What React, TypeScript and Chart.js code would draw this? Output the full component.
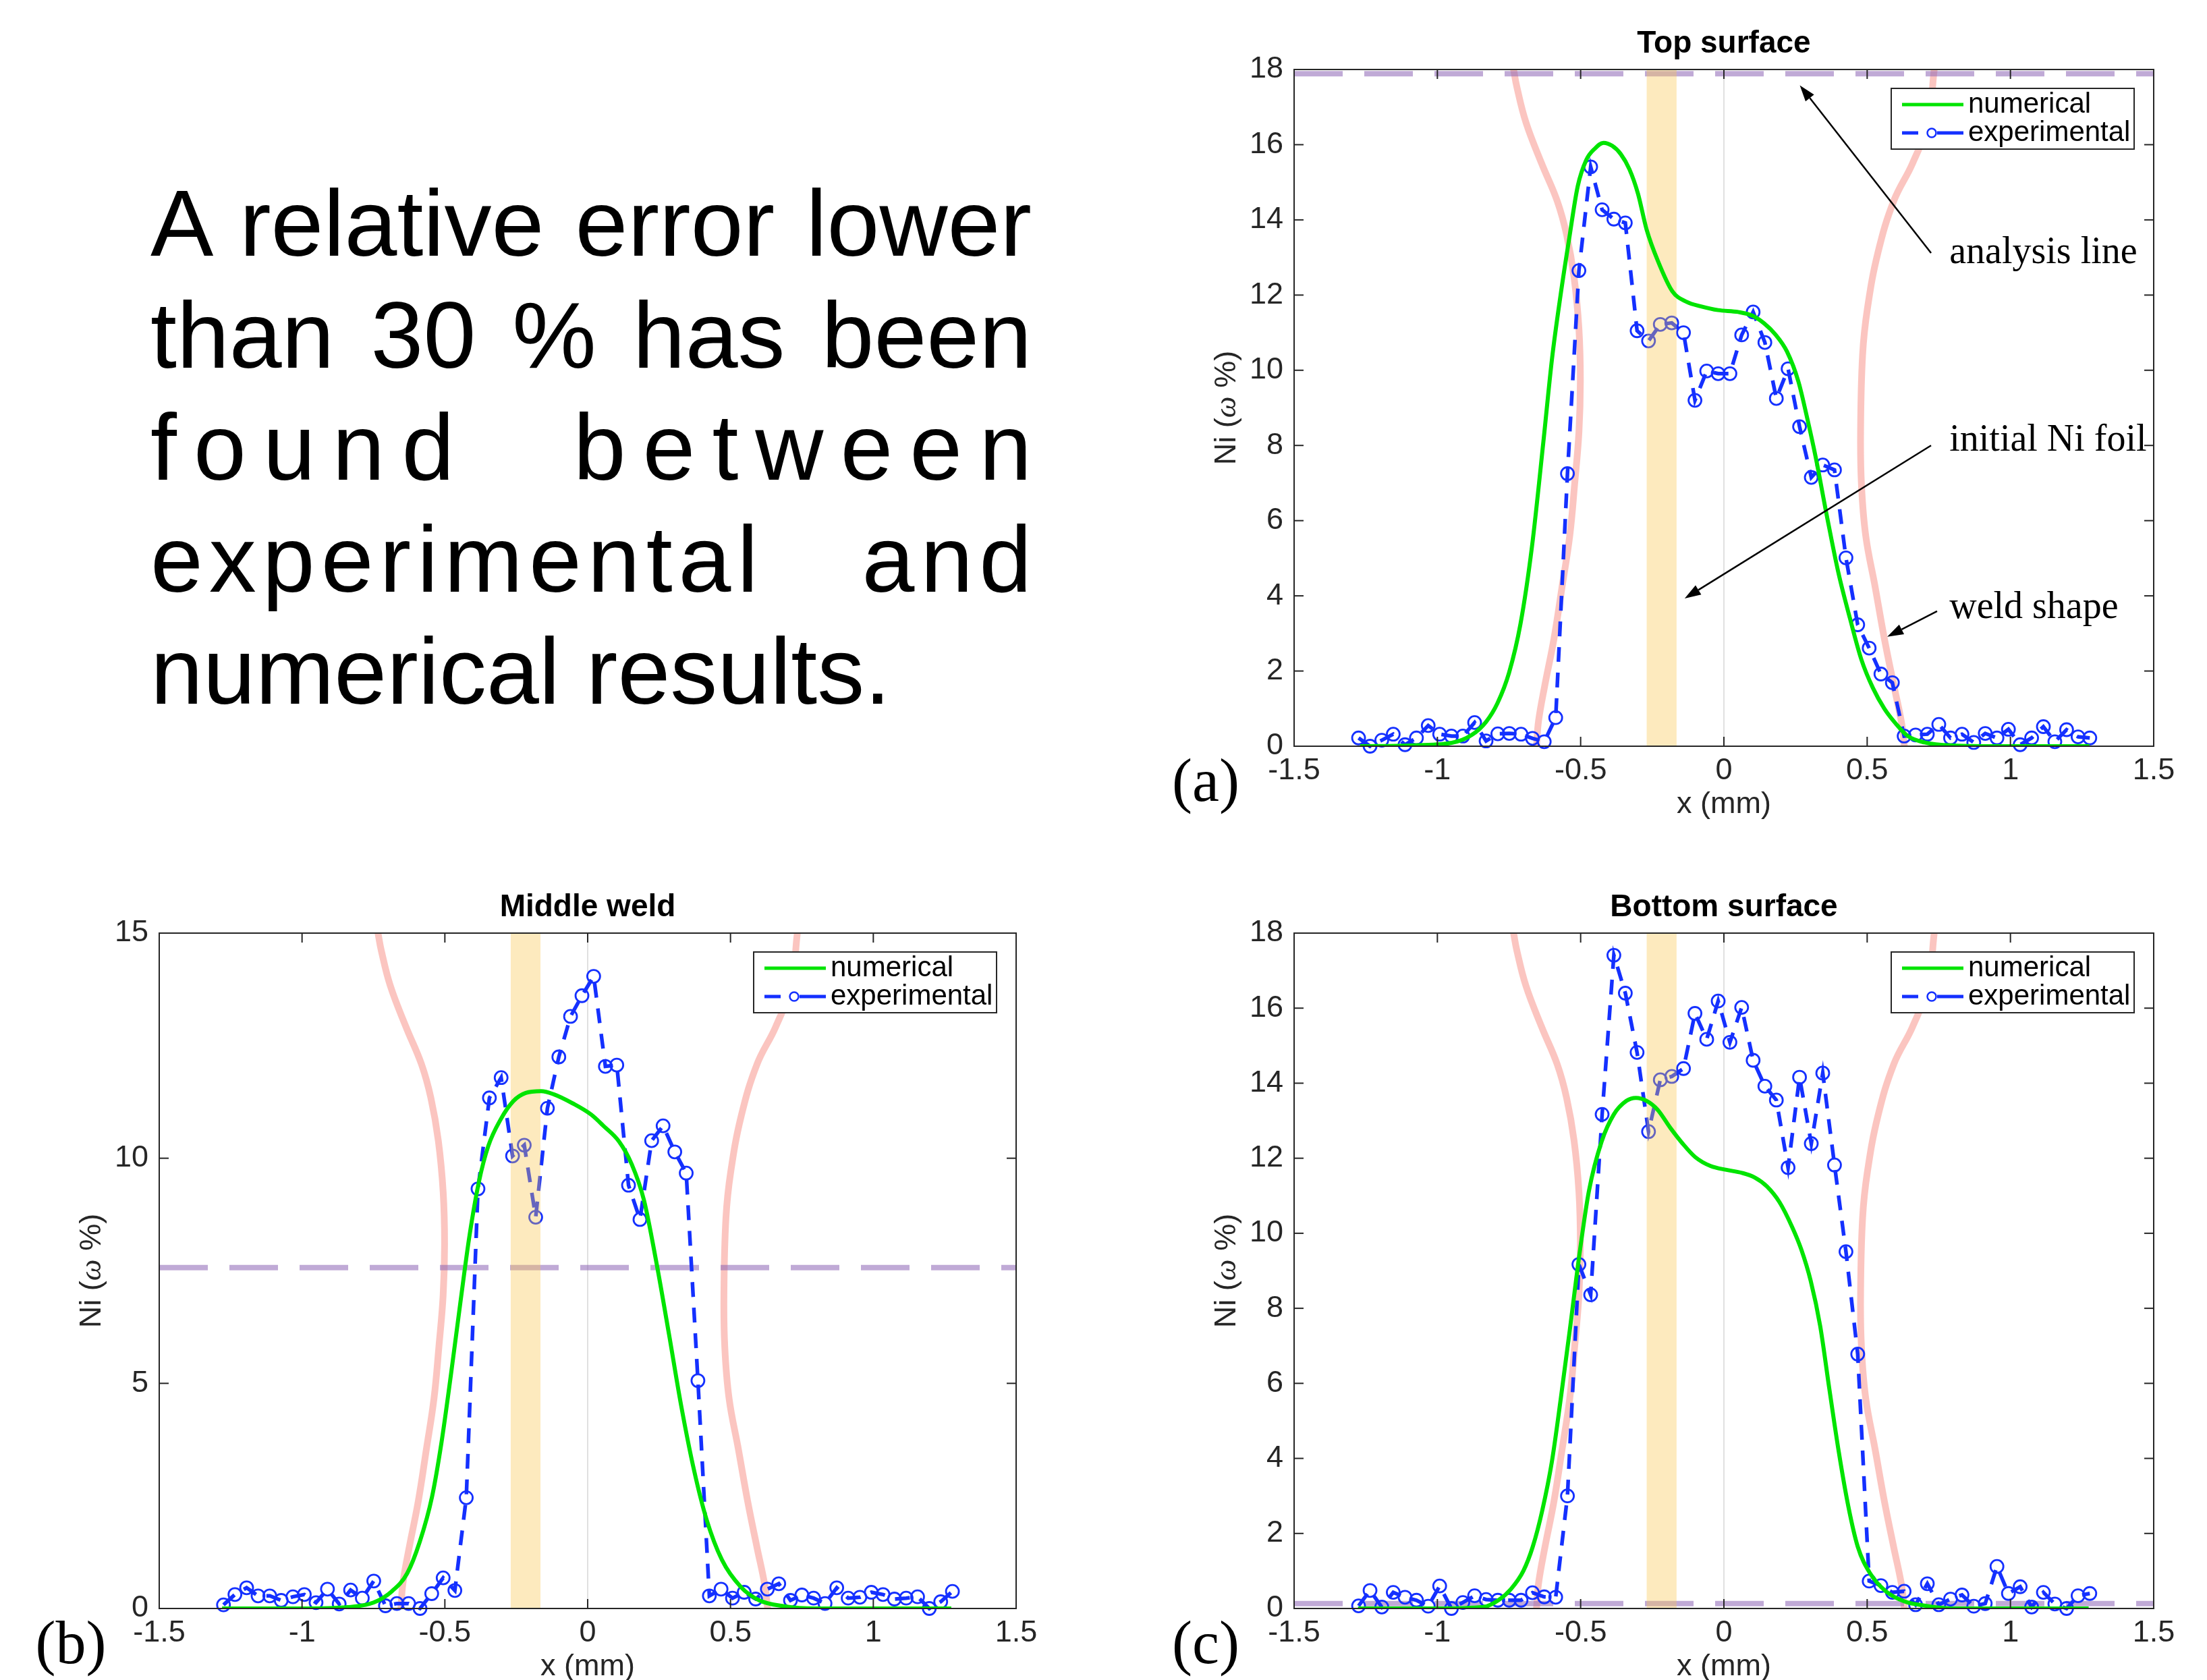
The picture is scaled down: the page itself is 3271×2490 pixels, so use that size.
import React, { useEffect, useRef } from "react";
import { Chart, registerables } from "chart.js";
Chart.register(...registerables);

const SANS = '"Liberation Sans", Arial, Helvetica, sans-serif';
const SERIF = '"Liberation Serif", "Times New Roman", serif';

// ---------------- data ----------------
const xTicksStep = 0.5;

// sampling positions of the experimental profiles (mm)
const expX = [-1.275, -1.235, -1.194, -1.154, -1.113, -1.073, -1.032, -0.992, -0.951, -0.911, -0.87, -0.83, -0.789, -0.749, -0.708, -0.668, -0.627, -0.587, -0.546, -0.506, -0.465, -0.425, -0.384, -0.344, -0.303, -0.263, -0.222, -0.182, -0.141, -0.101, -0.06, -0.02, 0.021, 0.062, 0.102, 0.143, 0.183, 0.224, 0.264, 0.305, 0.345, 0.386, 0.426, 0.467, 0.507, 0.548, 0.588, 0.629, 0.669, 0.71, 0.75, 0.791, 0.831, 0.872, 0.912, 0.953, 0.993, 1.034, 1.074, 1.115, 1.155, 1.196, 1.236, 1.277];

const topExp = [0.22, 0.0, 0.16, 0.32, 0.04, 0.22, 0.55, 0.32, 0.27, 0.27, 0.63, 0.14, 0.33, 0.34, 0.32, 0.21, 0.12, 0.76, 7.25, 12.65, 15.41, 14.27, 14.02, 13.92, 11.05, 10.78, 11.22, 11.26, 11.0, 9.2, 9.98, 9.91, 9.91, 10.94, 11.55, 10.74, 9.25, 10.04, 8.5, 7.15, 7.48, 7.35, 5.01, 3.23, 2.61, 1.92, 1.69, 0.27, 0.3, 0.32, 0.58, 0.22, 0.32, 0.1, 0.34, 0.22, 0.45, 0.04, 0.22, 0.52, 0.12, 0.44, 0.25, 0.22];
const midExp = [0.08, 0.31, 0.46, 0.28, 0.28, 0.18, 0.26, 0.31, 0.13, 0.43, 0.1, 0.41, 0.23, 0.61, 0.06, 0.11, 0.11, 0.0, 0.33, 0.68, 0.4, 2.46, 9.32, 11.34, 11.79, 10.05, 10.29, 8.69, 11.11, 12.25, 13.15, 13.61, 14.04, 12.04, 12.07, 9.4, 8.64, 10.39, 10.72, 10.14, 9.67, 5.06, 0.28, 0.43, 0.23, 0.36, 0.21, 0.43, 0.55, 0.18, 0.3, 0.23, 0.11, 0.46, 0.23, 0.25, 0.36, 0.31, 0.21, 0.23, 0.26, 0.0, 0.15, 0.38];
const botExp = [0.07, 0.48, 0.04, 0.43, 0.3, 0.22, 0.06, 0.6, 0.0, 0.16, 0.34, 0.24, 0.22, 0.22, 0.22, 0.42, 0.31, 0.3, 3.0, 9.17, 8.36, 13.17, 17.41, 16.4, 14.82, 12.71, 14.09, 14.18, 14.39, 15.86, 15.17, 16.19, 15.09, 16.02, 14.61, 13.92, 13.55, 11.75, 14.16, 12.39, 14.27, 11.82, 9.51, 6.78, 0.73, 0.61, 0.43, 0.46, 0.1, 0.66, 0.1, 0.25, 0.36, 0.06, 0.13, 1.12, 0.4, 0.58, 0.04, 0.43, 0.12, 0.0, 0.34, 0.4];

const topNumX = [-1.27, -1.1, -0.95, -0.88, -0.83, -0.79, -0.75, -0.71, -0.67, -0.63, -0.6, -0.57, -0.54, -0.51, -0.48, -0.45, -0.42, -0.39, -0.36, -0.33, -0.3, -0.27, -0.23, -0.18, -0.13, -0.08, -0.02, 0.05, 0.1, 0.14, 0.18, 0.22, 0.26, 0.29, 0.32, 0.36, 0.4, 0.44, 0.48, 0.52, 0.56, 0.6, 0.64, 0.7, 0.8, 1.0, 1.276];
const topNumY = [0, 0.02, 0.09, 0.3, 0.65, 1.15, 1.95, 3.25, 5.3, 8.1, 10.3, 12.0, 13.5, 14.9, 15.6, 15.9, 16.05, 15.97, 15.75, 15.35, 14.7, 13.75, 12.9, 12.1, 11.82, 11.7, 11.6, 11.55, 11.45, 11.25, 10.95, 10.5, 9.7, 8.75, 7.7, 6.1, 4.6, 3.4, 2.3, 1.55, 1.0, 0.6, 0.28, 0.1, 0.02, 0, 0];

const midNumX = [-1.28, -1.0, -0.84, -0.75, -0.686, -0.632, -0.588, -0.545, -0.512, -0.479, -0.446, -0.414, -0.381, -0.348, -0.304, -0.26, -0.217, -0.163, -0.119, -0.053, 0.012, 0.055, 0.11, 0.154, 0.197, 0.241, 0.285, 0.328, 0.372, 0.416, 0.47, 0.536, 0.601, 0.688, 0.797, 1.0, 1.273];
const midNumY = [0, 0, 0.03, 0.13, 0.38, 0.78, 1.48, 2.48, 3.68, 5.18, 6.78, 8.27, 9.47, 10.27, 10.87, 11.27, 11.45, 11.49, 11.42, 11.22, 10.97, 10.72, 10.37, 9.87, 9.07, 7.67, 6.08, 4.48, 3.08, 1.98, 1.08, 0.48, 0.18, 0.05, 0, 0, 0];

const botNumX = [-1.277, -1.0, -0.84, -0.787, -0.743, -0.7, -0.667, -0.634, -0.6, -0.569, -0.536, -0.504, -0.471, -0.427, -0.384, -0.34, -0.307, -0.27, -0.231, -0.187, -0.144, -0.1, -0.046, 0.009, 0.063, 0.107, 0.15, 0.194, 0.238, 0.27, 0.303, 0.336, 0.368, 0.401, 0.434, 0.467, 0.51, 0.565, 0.63, 0.706, 0.794, 1.0, 1.273];
const botNumY = [0, 0, 0.04, 0.22, 0.52, 1.0, 1.65, 2.61, 3.93, 5.61, 7.53, 9.45, 11.13, 12.44, 13.17, 13.53, 13.61, 13.53, 13.29, 12.81, 12.39, 12.03, 11.79, 11.69, 11.61, 11.49, 11.25, 10.83, 10.17, 9.57, 8.73, 7.53, 5.85, 4.17, 2.73, 1.65, 0.94, 0.46, 0.19, 0.07, 0, 0, 0];

// weld shape: x (mm) vs. relative depth (fraction of the axis height)
const weldLeftX = [-0.734, -0.723, -0.691, -0.636, -0.582, -0.549, -0.523, -0.506, -0.501, -0.506, -0.521, -0.538, -0.565, -0.593, -0.625, -0.647, -0.654];
const weldLeftDepth = [1.0, 0.975, 0.922, 0.861, 0.806, 0.756, 0.693, 0.617, 0.54, 0.464, 0.387, 0.311, 0.235, 0.159, 0.09, 0.037, 0];
const weldRightX = [0.734, 0.712, 0.658, 0.593, 0.538, 0.501, 0.484, 0.477, 0.48, 0.495, 0.528, 0.56, 0.593, 0.619, 0.63];
const weldRightDepth = [1.0, 0.922, 0.861, 0.806, 0.73, 0.647, 0.578, 0.464, 0.387, 0.311, 0.235, 0.159, 0.09, 0.037, 0];

const foilBand = [-0.27, -0.165];
const analysisLevels = { top: 17.89, mid: 7.57, bot: 0.13 };

const topNotes = [
  { text: "analysis line", tx: 0.787, ty: 13.12, fx: 0.723, fy: 13.12, hx: 0.265, hy: 17.58 },
  { text: "initial Ni foil", tx: 0.787, ty: 8.13, fx: 0.723, fy: 8.0, hx: -0.137, hy: 3.93 },
  { text: "weld shape", tx: 0.787, ty: 3.68, fx: 0.744, fy: 3.59, hx: 0.57, hy: 2.91 },
];

// ---------------- helpers ----------------
const pts = (xs: number[], ys: number[]) => xs.map((x, i) => ({ x, y: ys[i] }));

const GREEN = "#00e400";
const BLUE = "#1430ff";
const AXIS = "#262626";
const PINK = "rgba(248,150,140,0.55)";

type Spec = {
  title: string;
  panel: string;
  yMax: number;
  yStep: number;
  exp: number[];
  numX: number[];
  numY: number[];
  analysis: number;
  yw: number;
  pr: number;
  pt: number;
  xh: number;
  notes?: typeof topNotes;
};

function arrow(ctx: CanvasRenderingContext2D, x1: number, y1: number, x2: number, y2: number) {
  const ang = Math.atan2(y2 - y1, x2 - x1);
  const len = 24, hw = 8;
  const bx = x2 - len * Math.cos(ang), by = y2 - len * Math.sin(ang);
  ctx.beginPath();
  ctx.moveTo(x1, y1);
  ctx.lineTo(bx, by);
  ctx.stroke();
  ctx.beginPath();
  ctx.moveTo(x2, y2);
  ctx.lineTo(bx + hw * Math.sin(ang), by - hw * Math.cos(ang));
  ctx.lineTo(bx - hw * Math.sin(ang), by + hw * Math.cos(ang));
  ctx.closePath();
  ctx.fill();
}

function makeDecor(spec: Spec) {
  return {
    id: "decor",
    afterDraw(chart: any) {
      const { ctx, chartArea: a, scales } = chart;
      const xs = scales.x, ys = scales.y;
      ctx.save();
      // inward ticks + frame
      ctx.strokeStyle = AXIS;
      ctx.lineWidth = 2;
      const seg = (x1: number, y1: number, x2: number, y2: number) => {
        ctx.beginPath(); ctx.moveTo(x1, y1); ctx.lineTo(x2, y2); ctx.stroke();
      };
      xs.ticks.forEach((t: any) => {
        const px = xs.getPixelForValue(t.value);
        seg(px, a.bottom, px, a.bottom - 14);
        seg(px, a.top, px, a.top + 14);
      });
      ys.ticks.forEach((t: any) => {
        const py = ys.getPixelForValue(t.value);
        seg(a.left, py, a.left + 14, py);
        seg(a.right, py, a.right - 14, py);
      });
      ctx.strokeRect(a.left, a.top, a.right - a.left, a.bottom - a.top);

      // legend
      const bw = 360, bh = 90;
      const bx = a.right - 29 - bw, by = a.top + 28;
      ctx.fillStyle = "#ffffff";
      ctx.fillRect(bx, by, bw, bh);
      ctx.strokeStyle = AXIS;
      ctx.lineWidth = 2;
      ctx.strokeRect(bx, by, bw, bh);
      const r1 = by + 24, r2 = by + 66;
      ctx.lineWidth = 5;
      ctx.strokeStyle = GREEN;
      seg(bx + 16, r1, bx + 107, r1);
      ctx.strokeStyle = BLUE;
      seg(bx + 16, r2, bx + 40, r2);
      seg(bx + 68, r2, bx + 107, r2);
      ctx.lineWidth = 2.5;
      ctx.beginPath(); ctx.arc(bx + 60, r2, 6.5, 0, Math.PI * 2); ctx.stroke();
      ctx.fillStyle = "#000";
      ctx.font = `42px ${SANS}`;
      ctx.textAlign = "left";
      ctx.textBaseline = "middle";
      ctx.fillText("numerical", bx + 114, r1);
      ctx.fillText("experimental", bx + 114, r2);

      // title
      const cx = (a.left + a.right) / 2;
      ctx.font = `bold 46px ${SANS}`;
      ctx.textAlign = "center";
      ctx.fillStyle = "#000";
      ctx.fillText(spec.title, cx, a.top - 38);

      // x axis title
      ctx.font = `45px ${SANS}`;
      ctx.fillStyle = AXIS;
      ctx.fillText("x (mm)", cx, a.bottom + 87);

      // y axis title (rotated)
      ctx.save();
      ctx.translate(a.left - 99, (a.top + a.bottom) / 2);
      ctx.rotate(-Math.PI / 2);
      const parts: [string, string][] = [
        ["Ni (", `45px ${SANS}`],
        ["\u03c9", `italic 45px ${SERIF}`],
        [" %)", `45px ${SANS}`],
      ];
      let total = 0;
      parts.forEach(([t, f]) => { ctx.font = f; total += ctx.measureText(t).width; });
      let px = -total / 2;
      ctx.textAlign = "left";
      parts.forEach(([t, f]) => { ctx.font = f; ctx.fillText(t, px, 0); px += ctx.measureText(t).width; });
      ctx.restore();

      // panel label
      ctx.font = `90px ${SERIF}`;
      ctx.fillStyle = "#000";
      ctx.textAlign = "center";
      ctx.textBaseline = "middle";
      ctx.fillText(spec.panel, a.left - 131, a.bottom + 57);

      // annotations
      if (spec.notes) {
        ctx.strokeStyle = "#000";
        ctx.fillStyle = "#000";
        ctx.lineWidth = 2.5;
        ctx.font = `56px ${SERIF}`;
        ctx.textAlign = "left";
        spec.notes.forEach((n) => {
          arrow(ctx, xs.getPixelForValue(n.fx), ys.getPixelForValue(n.fy), xs.getPixelForValue(n.hx), ys.getPixelForValue(n.hy));
          ctx.fillText(n.text, xs.getPixelForValue(n.tx), ys.getPixelForValue(n.ty));
        });
      }
      ctx.restore();
    },
  };
}

function makeConfig(spec: Spec): any {
  const weldL = weldLeftX.map((x, i) => ({ x, y: weldLeftDepth[i] * spec.yMax }));
  const weldR = weldRightX.map((x, i) => ({ x, y: weldRightDepth[i] * spec.yMax }));
  return {
    type: "scatter",
    data: {
      datasets: [
        {
          label: "numerical",
          data: pts(spec.numX, spec.numY),
          showLine: true,
          borderColor: GREEN,
          borderWidth: 6,
          pointRadius: 0,
          cubicInterpolationMode: "monotone",
          order: 0,
        },
        {
          label: "foil",
          data: [{ x: foilBand[0], y: spec.yMax }, { x: foilBand[1], y: spec.yMax }],
          showLine: true,
          borderWidth: 0,
          borderColor: "rgba(0,0,0,0)",
          pointRadius: 0,
          fill: "origin",
          backgroundColor: "rgba(249,198,75,0.36)",
          order: 1,
        },
        {
          label: "experimental",
          data: pts(expX, spec.exp),
          showLine: true,
          borderColor: BLUE,
          borderWidth: 5.5,
          borderDash: [22, 16],
          pointRadius: 9.5,
          pointBorderWidth: 2.8,
          pointBorderColor: BLUE,
          pointBackgroundColor: "rgba(0,0,0,0)",
          pointStyle: "circle",
          clip: false,
          order: 2,
        },
        {
          label: "analysis",
          data: [{ x: -1.5, y: spec.analysis }, { x: 1.5, y: spec.analysis }],
          showLine: true,
          borderColor: "rgba(140,100,180,0.55)",
          borderWidth: 8,
          borderDash: [72, 32],
          pointRadius: 0,
          order: 3,
        },
        {
          label: "zero",
          data: [{ x: 0, y: 0 }, { x: 0, y: spec.yMax }],
          showLine: true,
          borderColor: "#d6d6d6",
          borderWidth: 1.5,
          pointRadius: 0,
          order: 4,
        },
        {
          label: "weldL",
          data: weldL,
          showLine: true,
          borderColor: PINK,
          borderWidth: 10,
          pointRadius: 0,
          tension: 0.4,
          order: 5,
        },
        {
          label: "weldR",
          data: weldR,
          showLine: true,
          borderColor: PINK,
          borderWidth: 10,
          pointRadius: 0,
          tension: 0.4,
          order: 6,
        },
      ],
    },
    options: {
      animation: false,
      responsive: false,
      devicePixelRatio: 1,
      events: [],
      layout: { padding: { top: spec.pt, right: spec.pr, left: 0, bottom: 0 } },
      plugins: {
        legend: { display: false },
        title: { display: false },
        tooltip: { enabled: false },
      },
      scales: {
        x: {
          type: "linear",
          min: -1.5,
          max: 1.5,
          grid: { display: false, drawTicks: false },
          border: { display: false },
          ticks: {
            stepSize: xTicksStep,
            padding: 10,
            color: AXIS,
            font: { family: SANS, size: 45 },
            maxRotation: 0,
            autoSkip: false,
            callback: (v: any) => String(v),
          },
          afterFit: (s: any) => { s.height = spec.xh; },
        },
        y: {
          type: "linear",
          min: 0,
          max: spec.yMax,
          grid: { display: false, drawTicks: false },
          border: { display: false },
          ticks: {
            stepSize: spec.yStep,
            padding: 16,
            color: AXIS,
            font: { family: SANS, size: 45 },
            autoSkip: false,
            callback: (v: any) => String(v),
          },
          afterFit: (s: any) => { s.width = spec.yw; },
        },
      },
    },
    plugins: [makeDecor(spec)],
  };
}

function Panel({ spec, left, top, w, h }: { spec: Spec; left: number; top: number; w: number; h: number }) {
  const ref = useRef<HTMLCanvasElement>(null);
  useEffect(() => {
    let chart: Chart | null = null;
    let dead = false;
    const fonts = [
      `45px "Liberation Sans"`,
      `bold 46px "Liberation Sans"`,
      `56px "Liberation Serif"`,
      `italic 45px "Liberation Serif"`,
    ];
    const make = () => {
      if (dead || !ref.current) return;
      chart = new Chart(ref.current, makeConfig(spec));
    };
    const fs: any = (document as any).fonts;
    if (fs && fs.load) {
      Promise.all(fonts.map((f) => fs.load(f).catch(() => null))).then(make, make);
    } else make();
    return () => {
      dead = true;
      if (chart) chart.destroy();
    };
  }, []);
  return (
    <canvas
      ref={ref}
      width={w}
      height={h}
      style={{ position: "absolute", left, top, width: w, height: h }}
    />
  );
}

const topSpec: Spec = {
  title: "Top surface", panel: "(a)", yMax: 18, yStep: 2, exp: topExp,
  numX: topNumX, numY: topNumY, analysis: analysisLevels.top,
  yw: 218, pr: 79, pt: 103, xh: 144, notes: topNotes,
};
const midSpec: Spec = {
  title: "Middle weld", panel: "(b)", yMax: 15, yStep: 5, exp: midExp,
  numX: midNumX, numY: midNumY, analysis: analysisLevels.mid,
  yw: 236, pr: 114, pt: 133, xh: 106,
};
const botSpec: Spec = {
  title: "Bottom surface", panel: "(c)", yMax: 18, yStep: 2, exp: botExp,
  numX: botNumX, numY: botNumY, analysis: analysisLevels.bot,
  yw: 218, pr: 79, pt: 133, xh: 106,
};

const textLines = [
  { t: "A relative error lower", ls: 0, justify: true },
  { t: "than 30 % has been", ls: 0, justify: true },
  { t: "found between", ls: 25, justify: true },
  { t: "experimental and", ls: 9, justify: true },
  { t: "numerical results.", ls: 0, justify: false },
];

export default function App() {
  return (
    <div
      style={{
        position: "absolute",
        left: 0,
        top: 0,
        width: 3271,
        height: 2490,
        background: "#ffffff",
        overflow: "hidden",
      }}
    >
      <div
        style={{
          position: "absolute",
          left: 223,
          top: 248,
          width: 1306,
          fontFamily: SANS,
          fontSize: 140,
          lineHeight: "166px",
          color: "#000",
        }}
      >
        {textLines.map((l, i) => (
          <div
            key={i}
            style={{
              textAlign: l.justify ? "justify" : "left",
              textAlignLast: l.justify ? "justify" : "left",
              letterSpacing: l.ls,
              width: 1306 + l.ls,
            } as any}
          >
            {l.t}
          </div>
        ))}
      </div>
      <Panel spec={topSpec} left={1700} top={0} w={1571} h={1250} />
      <Panel spec={midSpec} left={0} top={1250} w={1620} h={1240} />
      <Panel spec={botSpec} left={1700} top={1250} w={1571} h={1240} />
    </div>
  );
}
